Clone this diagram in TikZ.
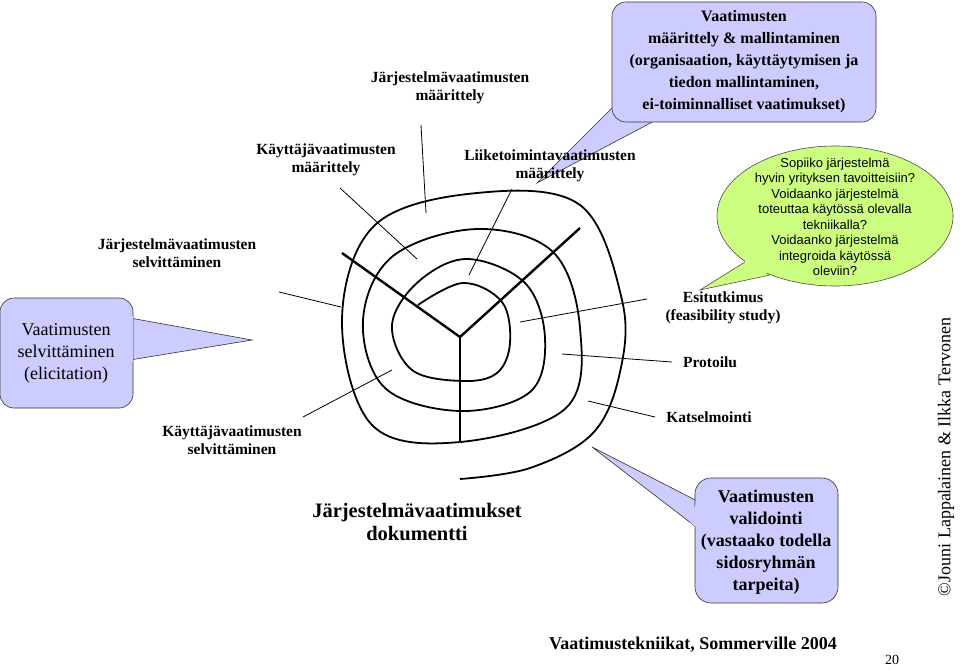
\documentclass[tikz,border=0pt]{standalone}
\usepackage{fontspec}
\setmainfont{Liberation Serif}
\newfontfamily\sansf{Liberation Sans}
\begin{document}
\begin{tikzpicture}[x=1pt,y=-1pt,
  lbl/.style={font=\bfseries\fontsize{15.5}{18}\selectfont,align=center,inner sep=0pt},
  big/.style={font=\bfseries\fontsize{20.5}{23}\selectfont,align=center,inner sep=0pt},
  thin/.style={line width=0.8pt},
  thick2/.style={line width=2.4pt},
  callb/.style={fill=blue!20,draw=black!80,line width=0.6pt},
  callg/.style={fill=green!40!yellow!50!white,draw=black!70,line width=0.6pt}]
\useasboundingbox (0,0) rectangle (960,669);
% top callout
\draw[callb] (625,95) -- (537,183) -- (660,118) -- (625,95);
\draw[callb,rounded corners=14] (612,2) rectangle (876,122);
\fill[blue!20] (626,98) -- (640,121) -- (656,121) -- cycle;
\node[lbl,font=\bfseries\fontsize{16}{22}\selectfont] (tc) at (744,62) {Vaatimusten\\määrittely \& mallintaminen\\(organisaation, käyttäytymisen ja\\tiedon mallintaminen,\\ei-toiminnalliset vaatimukset)};
% left callout
\draw[callb] (130,318) -- (252,340) -- (130,360);
\draw[callb,rounded corners=14] (0,298) rectangle (133,408);
\fill[blue!20] (133,316) -- (133,362) -- (129,362) -- (129,316) -- cycle;
\node[align=center,font=\fontsize{18}{22}\selectfont] (lc) at (66,353) {Vaatimusten\\selvittäminen\\(elicitation)};
% green callout
\draw[callg] (745,262) -- (700,290) -- (770,275);
\draw[callg] (835,216) ellipse [x radius=118, y radius=70];
\fill[green!40!yellow!50!white] (746,258) -- (771,271) -- (760,276) -- (744,266) -- cycle;
\node[font=\sansf\fontsize{13}{15.5}\selectfont,align=center] (gc) at (835,217) {Sopiiko järjestelmä\\hyvin yrityksen tavoitteisiin?\\Voidaanko järjestelmä\\toteuttaa käytössä olevalla\\tekniikalla?\\Voidaanko järjestelmä\\integroida käytössä\\oleviin?};
% bottom callout
\draw[callb] (592,447) -- (705,505) -- (700,530) -- cycle;
\draw[callb,rounded corners=16] (695,478) rectangle (838,603);
\fill[blue!20] (697,500) -- (697,528) -- (690,522) -- cycle;
\node[big,font=\bfseries\fontsize{18}{22}\selectfont] (bc) at (766,542) {Vaatimusten\\validointi\\(vastaako todella\\sidosryhmän\\tarpeita)};
% spiral
\draw[line width=1.8pt] plot[smooth,tension=0.6] coordinates {(418,305) (463,283) (502,302) (510,343) (497,373) (463,381) (412,370) (392,325) (418,282) (467,259) (525,283) (545,338) (530,392) (460,411) (385,388) (363,320) (393,256) (477,229) (553,252) (580,328) (566,408) (460,442) (372,425) (342,320) (375,225) (477,193) (580,205) (622,300) (620,372) (593,433) (530,468) (460,479)};
\coordinate (c) at (460,337);
\coordinate (rl) at (342,253);
\coordinate (rr) at (580,228);
\coordinate (rd) at (460,442);
\draw[thick2] (rl) -- (c) -- (rr);
\draw[thick2] (c) -- (rd);
% labels
\node[lbl] (l1) at (450,88) {Järjestelmävaatimusten\\määrittely};
\node[lbl] (l2) at (326,160) {Käyttäjävaatimusten\\määrittely};
\node[lbl] (l3) at (550,166) {Liiketoimintavaatimusten\\määrittely};
\node[lbl] (l4) at (177,253) {Järjestelmävaatimusten\\selvittäminen};
\node[lbl] (l5) at (232,440) {Käyttäjävaatimusten\\selvittäminen};
\node[big] (l6) at (417,522) {Järjestelmävaatimukset\\dokumentti};
\node[lbl] (l7) at (723,308) {Esitutkimus\\(feasibility study)};
\node[lbl] (l8) at (710,362) {Protoilu};
\node[lbl] (l9) at (709,417) {Katselmointi};
% pointer lines
\coordinate (p1a) at (421,125); \coordinate (p1b) at (426,213);
\coordinate (p2a) at (340,188); \coordinate (p2b) at (417,259);
\coordinate (p3a) at (512,189); \coordinate (p3b) at (469,275);
\coordinate (p4a) at (279,292); \coordinate (p4b) at (341,307);
\coordinate (p5a) at (303,417); \coordinate (p5b) at (392,370);
\coordinate (p7a) at (647,299); \coordinate (p7b) at (520,322);
\coordinate (p8a) at (672,362); \coordinate (p8b) at (562,354);
\coordinate (p9a) at (655,417); \coordinate (p9b) at (588,401);
\foreach \n in {1,2,3,4,5,7,8,9} \draw[thin] (p\n a) -- (p\n b);
% footer
\node[font=\bfseries\fontsize{18}{20}\selectfont] (ft) at (693,645) {Vaatimustekniikat, Sommerville 2004};
\node[font=\fontsize{14}{16}\selectfont] (pg) at (892,660) {20};
\node[rotate=90,font=\fontsize{18}{20}\selectfont] (cr) at (946,457) {\textcopyright Jouni Lappalainen \& Ilkka Tervonen};
\end{tikzpicture}
\end{document}
